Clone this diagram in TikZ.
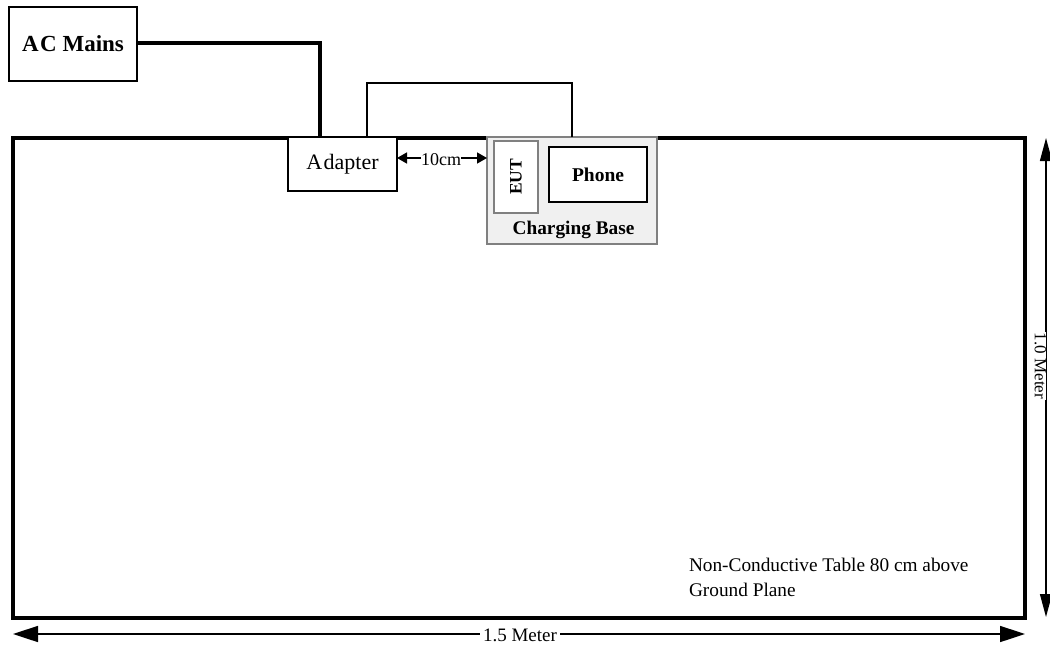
\documentclass[tikz,border=0pt]{standalone}
\usepackage{fontspec}
\setmainfont{Liberation Serif}
\usetikzlibrary{arrows.meta}
\definecolor{basefill}{RGB}{240,240,240}
\definecolor{baseedge}{RGB}{128,128,128}
\begin{document}
\begin{tikzpicture}[x=1pt,y=-1pt,
  box/.style={draw, fill=white, line width=1.3pt, inner sep=0pt, outer sep=0pt},
  graybox/.style={draw=baseedge, fill=basefill, line width=1.2pt, inner sep=0pt, outer sep=0pt},
  tablebox/.style={draw, line width=3.3pt, inner sep=0pt, outer sep=0pt},
  mainsline/.style={line width=3.2pt, line join=miter},
  cableline/.style={line width=2pt, line join=miter},
  bigdim/.style={line width=1.6pt, {Triangle[length=25pt,width=16pt]}-{Triangle[length=25pt,width=16pt]}},
  vdim/.style={line width=1.4pt, {Triangle[length=23pt,width=12pt]}-{Triangle[length=23pt,width=12pt]}},
  smalldim/.style={line width=1.4pt, {Triangle[length=10pt,width=11pt]}-{Triangle[length=10pt,width=11pt]}},
  txt/.style={inner sep=0pt, outer sep=0pt}
]
\useasboundingbox (0,0) rectangle (1050,646);

% table
\node[tablebox, minimum width=1012pt, minimum height=480pt] (table) at (519,378) {};

% AC Mains
\node[box, minimum width=128pt, minimum height=74pt] (acmains) at (73,44)
  {\fontsize{23}{27}\selectfont\bfseries\raisebox{-1.5pt}{A\kern1.5pt C Mains}};

% Adapter
\node[box, minimum width=109pt, minimum height=54pt] (adapter) at (342.5,164)
  {\fontsize{22}{26}\selectfont\raisebox{-3pt}{A\kern1.5pt dapter}};

% Charging base
\node[graybox, minimum width=170pt, minimum height=107pt] (base) at (572,190.5) {};
\node[draw=baseedge, fill=white, line width=1.2pt, inner sep=0pt, minimum width=44pt, minimum height=72pt] (eut) at (516,177)
  {\fontsize{17.5}{20}\selectfont\bfseries\rotatebox{90}{EUT}};
\node[box, line width=1.5pt, minimum width=98pt, minimum height=55pt] (phone) at (598,174.5)
  {\fontsize{19.5}{23}\selectfont\bfseries\raisebox{-2pt}{Phone}};
\node[txt, anchor=base] (baselabel) at (573.5,234) {\fontsize{19.3}{23}\selectfont\bfseries Charging Base};

% mains line
\coordinate (c0) at (320,43);
\draw[mainsline] (acmains.east |- c0) -- (c0) -- (adapter.north -| c0);

% cable adapter -> base
\coordinate (c1) at (367,83);
\coordinate (c2) at (571.5,83);
\draw[cableline] (adapter.north -| c1) -- (c1) -- (c2) -- (base.north -| c2);

% 10 cm
\coordinate (m) at (441,158);
\draw[smalldim] (adapter.east |- m) -- (base.west |- m);
\node[txt, fill=white, anchor=base] (tencm) at (441,165) {\fontsize{18}{22}\selectfont 10cm};

% note
\node[txt, anchor=base west] (note1) at (689,571) {\fontsize{19.3}{23}\selectfont Non-Conductive Table 80 cm above};
\node[txt, anchor=base west] (note2) at (689,596) {\fontsize{19.3}{23}\selectfont Ground Plane};

% horizontal dimension
\coordinate (hl) at (13,634);
\coordinate (hr) at (1025,634);
\draw[bigdim] (hl) -- (hr);
\node[fill=white, inner xsep=3pt, inner ysep=1pt, anchor=base] (hlabel) at (520,641) {\fontsize{19}{23}\selectfont 1.5 Meter};

% vertical dimension
\coordinate (vt) at (1046,138);
\coordinate (vb) at (1046,617);
\draw[vdim] (vt) -- (vb);
\node[fill=white, inner xsep=0pt, inner ysep=1pt] (vlabel) at (1040.5,366) {\fontsize{17}{20}\selectfont\rotatebox{-90}{1.0 Meter}};
\end{tikzpicture}
\end{document}
